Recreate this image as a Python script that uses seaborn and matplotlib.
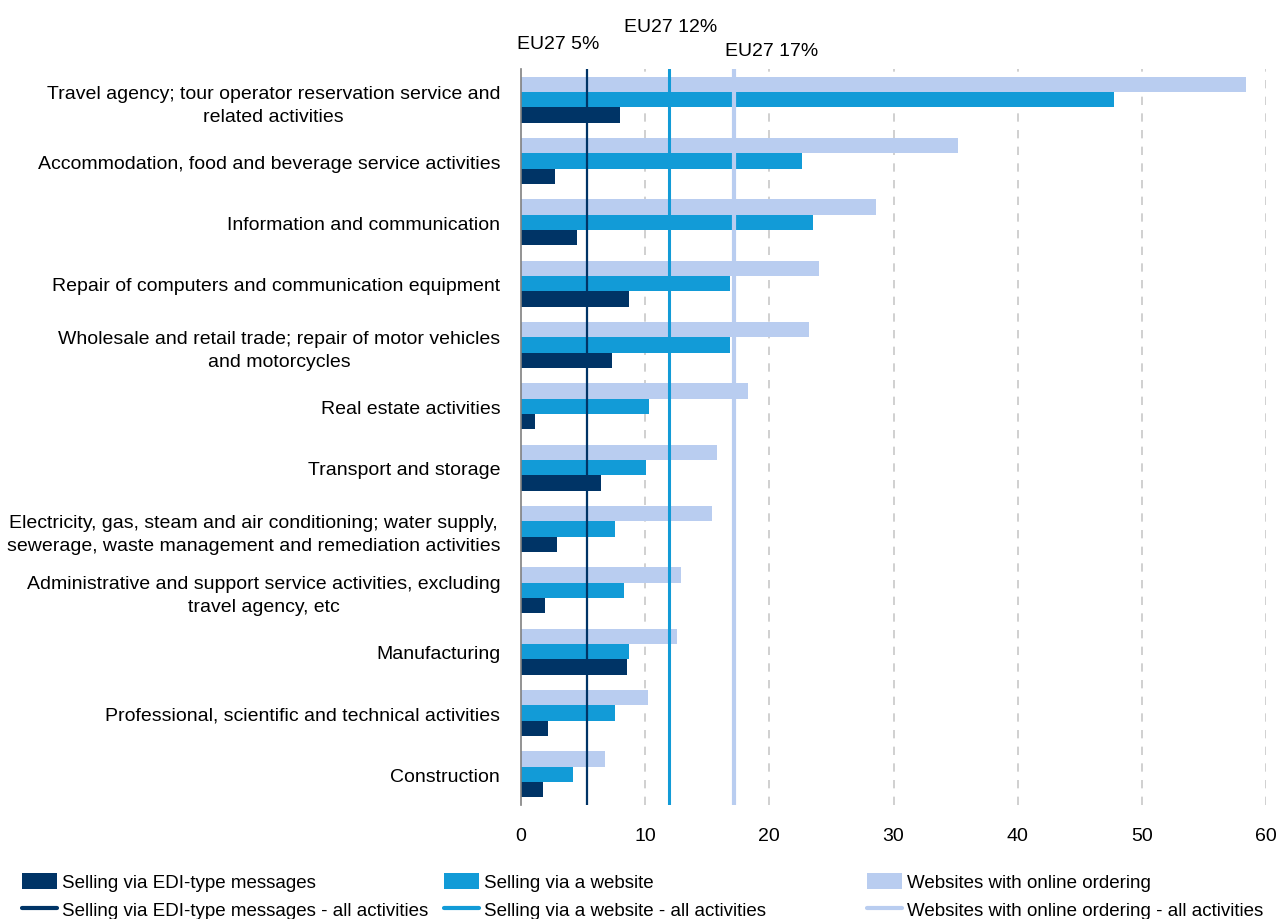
import pandas as pd
import matplotlib.pyplot as plt
import seaborn as sns
from matplotlib.patches import Patch
from matplotlib.lines import Line2D

# Data (% of enterprises)
categories = [
    'Travel agency; tour operator reservation service and\nrelated activities',
    'Accommodation, food and beverage service activities',
    'Information and communication',
    'Repair of computers and communication equipment',
    'Wholesale and retail trade; repair of motor vehicles\nand motorcycles',
    'Real estate activities',
    'Transport and storage',
    'Electricity, gas, steam and air conditioning; water supply,\nsewerage, waste management and remediation activities',
    'Administrative and support service activities, excluding\ntravel agency, etc',
    'Manufacturing',
    'Professional, scientific and technical activities',
    'Construction',
]
edi = [8.0, 2.7, 4.5, 8.7, 7.3, 1.1, 6.4, 2.9, 1.9, 8.5, 2.2, 1.8]
website = [47.8, 22.6, 23.5, 16.8, 16.8, 10.3, 10.1, 7.6, 8.3, 8.7, 7.6, 4.2]
ordering = [58.4, 35.2, 28.6, 24.0, 23.2, 18.3, 15.8, 15.4, 12.9, 12.6, 10.2, 6.8]

# EU27 averages over all activities
eu_edi = 5.3
eu_website = 11.9
eu_ordering = 17.15

series_names = ['Selling via EDI-type messages', 'Selling via a website', 'Websites with online ordering']
colors = ['#003466', '#129BD7', '#B9CDF0']

df = pd.DataFrame({
    'category': categories * 3,
    'value': edi + website + ordering,
    'series': [series_names[0]] * 12 + [series_names[1]] * 12 + [series_names[2]] * 12,
})

sns.set_style('white')
plt.rcParams['font.family'] = ['Liberation Sans', 'DejaVu Sans']
plt.rcParams['font.size'] = 14
plt.rcParams['text.color'] = 'black'
plt.rcParams['xtick.color'] = 'black'
plt.rcParams['ytick.color'] = 'black'
plt.rcParams['axes.labelcolor'] = 'black'

fig = plt.figure(figsize=(12.79, 9.2), dpi=100)
ax = fig.add_axes([0.4074, 0.1239, 0.5824, 0.8])

# top bar = online ordering, bottom = EDI
sns.barplot(data=df, y='category', x='value', hue='series', order=categories,
            hue_order=series_names[::-1], palette=colors[::-1], orient='h',
            width=0.75, saturation=1, errorbar=None, legend=False, ax=ax,
            linewidth=0, zorder=2)

ax.set_xlim(0, 60)
ax.set_ylim(len(categories) - 0.5, -0.5)
ax.set_xticks(range(0, 61, 10))
ax.set_xlabel('')
ax.set_ylabel('')

# dashed grid
for v in range(10, 61, 10):
    ax.axvline(v, color='#c8c8c8', lw=1.2, ls=(0, (5, 5)), zorder=1)

# EU27 reference lines
ax.axvline(eu_edi, color=colors[0], lw=1.6, zorder=3)
ax.axvline(eu_website, color=colors[1], lw=2.2, zorder=3)
ax.axvline(eu_ordering, color=colors[2], lw=3.0, zorder=3)

trans = ax.get_xaxis_transform()
ax.text(-0.3, 1.034, 'EU27 5%', transform=trans, ha='left', va='center')
ax.text(8.3, 1.058, 'EU27 12%', transform=trans, ha='left', va='center')
ax.text(16.4, 1.025, 'EU27 17%', transform=trans, ha='left', va='center')

# spines and ticks
for s in ['top', 'right', 'bottom']:
    ax.spines[s].set_visible(False)
ax.spines['left'].set_color('#808080')
ax.spines['left'].set_linewidth(1.2)

ax.set_yticks(range(len(categories)))
ax.set_yticklabels(categories)
for lab in ax.get_yticklabels():
    lab.set_multialignment('center')
    lab.set_linespacing(1.45)
ax.set_yticks([i - 0.5 for i in range(len(categories) + 1)], minor=True)
ax.tick_params(axis='y', which='major', length=0, pad=15, labelsize=14)
ax.tick_params(axis='y', which='minor', length=6, width=1.2, color='#808080', direction='out')
ax.tick_params(axis='x', length=0, pad=16, labelsize=14)

# legend: three columns, bar + line each
xs = [22 / 1279, 444 / 1279, 867 / 1279]
for i in range(3):
    handles = [Patch(facecolor=colors[i], edgecolor='none'),
               Line2D([0], [0], color=colors[i], lw=3)]
    labels = [series_names[i], series_names[i] + ' - all activities']
    fig.legend(handles=handles, labels=labels, loc='upper left',
               bbox_to_anchor=(xs[i], 1 - 874 / 920), frameon=False,
               borderpad=0, borderaxespad=0, handlelength=1.85, handleheight=0.9,
               handletextpad=0.28, labelspacing=0.5, fontsize=13.5)

fig.savefig('out.png', dpi=100)
